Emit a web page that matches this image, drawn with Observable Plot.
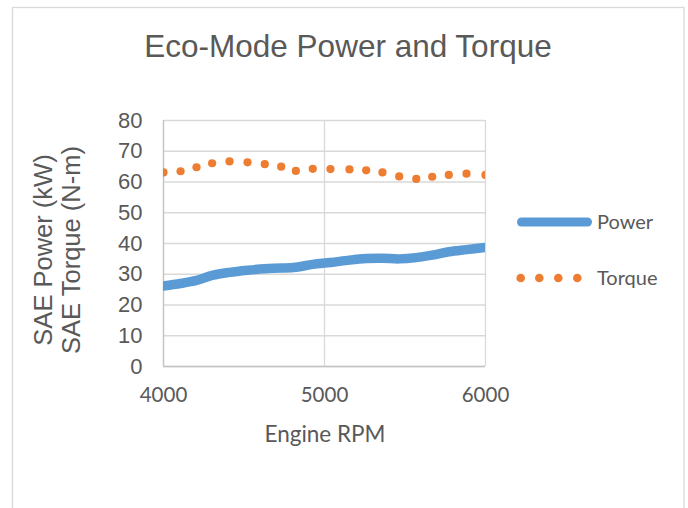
<!DOCTYPE html>
<html>
<head>
<meta charset="utf-8">
<script src="https://cdn.jsdelivr.net/npm/d3@7"></script>
<script src="https://cdn.jsdelivr.net/npm/@observablehq/plot@0.6"></script>
<style>
  html, body { margin: 0; padding: 0; background: #ffffff; }
  #chart { width: 688px; height: 508px; overflow: hidden; }
</style>
</head>
<body>
<div id="chart"></div>
<script>
// ---- data ----
const rpm = [4000, 4106, 4205, 4302, 4410, 4522, 4629, 4731, 4822, 4927,
             5037, 5155, 5259, 5360, 5464, 5570, 5669, 5772, 5882, 6000];
const power = [26.2, 27.0, 28.0, 29.6, 30.6, 31.3, 31.8, 32.0, 32.3, 33.2,
               33.8, 34.6, 35.1, 35.2, 35.0, 35.4, 36.2, 37.3, 38.0, 38.7];
const torque = [63.1, 63.5, 64.8, 66.1, 66.7, 66.4, 65.8, 65.0, 63.6, 64.3,
                64.2, 64.1, 63.8, 63.1, 61.8, 61.0, 61.7, 62.3, 62.7, 62.3];
const xTicks = [4000, 5000, 6000];
const yTicks = [0, 10, 20, 30, 40, 50, 60, 70, 80];
const seriesNames = ["Power", "Torque"];
const titleText = "Eco-Mode Power and Torque";
const xLabel = "Engine RPM";
const yLabels = ["SAE Power (kW)", "SAE Torque (N-m)"];

const rows = rpm.map((r, i) => ({rpm: r, power: power[i], torque: torque[i]}));

const BLUE = "#5B9BD5", ORANGE = "#ED7D31", GRID = "#D9D9D9", TEXT = "#595959";

const svg = Plot.plot({
  width: 688,
  height: 508,
  marginLeft: 163,
  marginRight: 203,
  marginTop: 120,
  marginBottom: 142,
  style: {background: "#ffffff", color: TEXT, overflow: "visible"},
  x: {domain: [4000, 6000]},
  y: {domain: [0, 80]},
  marks: [
    Plot.gridY(yTicks, {stroke: GRID, strokeOpacity: 1, strokeWidth: 1.3}),
    Plot.gridX(xTicks, {stroke: GRID, strokeOpacity: 1, strokeWidth: 1.3}),
    Plot.ruleX([4000], {stroke: "#C4C4C4", strokeWidth: 1.3}),
    Plot.ruleY([0], {stroke: "#C4C4C4", strokeWidth: 1.3}),
    Plot.line(rows, {x: "rpm", y: "power", stroke: BLUE, strokeWidth: 9.5,
                     curve: "catmull-rom", clip: true}),
    Plot.dot(rows, {x: "rpm", y: "torque", r: 4.1, fill: ORANGE, stroke: null, clip: true}),
    Plot.axisY(yTicks, {tickSize: 0, tickPadding: 21, label: null,
                        fontSize: 22, fontFamily: "Liberation Sans", fill: TEXT}),
    Plot.axisX(xTicks, {tickSize: 0, tickPadding: 21, label: null,
                        tickFormat: d => String(d),
                        fontSize: 20.5, fontFamily: "Lato", fill: TEXT})
  ]
});

const s = d3.select(svg);

// chart area border
s.append("rect")
  .attr("x", 12.5).attr("y", 7.5)
  .attr("width", 671.5).attr("height", 540)
  .attr("fill", "none").attr("stroke", GRID).attr("stroke-width", 1.3);

// title
s.append("text")
  .attr("x", 348).attr("y", 57)
  .attr("text-anchor", "middle")
  .attr("font-family", "Liberation Sans")
  .attr("font-size", 31.5)
  .attr("fill", TEXT)
  .text(titleText);

// y-axis titles (two lines, rotated)
yLabels.forEach((t, i) => {
  s.append("text")
    .attr("transform", `translate(${52 + i * 28},250) rotate(-90)`)
    .attr("text-anchor", "middle")
    .attr("font-family", "Liberation Sans")
    .attr("font-size", 25.5)
    .attr("fill", TEXT)
    .text(t);
});

// x-axis title
s.append("text")
  .attr("x", 325).attr("y", 442)
  .attr("text-anchor", "middle")
  .attr("font-family", "Lato")
  .attr("font-size", 22.5)
  .attr("fill", TEXT)
  .text(xLabel);

// legend
const lg = s.append("g").attr("text-anchor", "start");
lg.append("line")
  .attr("x1", 521.5).attr("x2", 587.5).attr("y1", 222).attr("y2", 222)
  .attr("stroke", BLUE).attr("stroke-width", 9).attr("stroke-linecap", "round");
lg.append("text")
  .attr("x", 597).attr("y", 229)
  .attr("text-anchor", "start")
  .attr("font-family", "Lato").attr("font-size", 20).attr("fill", TEXT)
  .text(seriesNames[0]);
[520.7, 539.3, 558.3, 577.3].forEach(cx => {
  lg.append("circle").attr("cx", cx).attr("cy", 278).attr("r", 4.3).attr("fill", ORANGE);
});
lg.append("text")
  .attr("x", 597).attr("y", 284.5)
  .attr("text-anchor", "start")
  .attr("font-family", "Lato").attr("font-size", 20).attr("fill", TEXT)
  .text(seriesNames[1]);

document.getElementById("chart").appendChild(svg);
</script>
</body>
</html>
